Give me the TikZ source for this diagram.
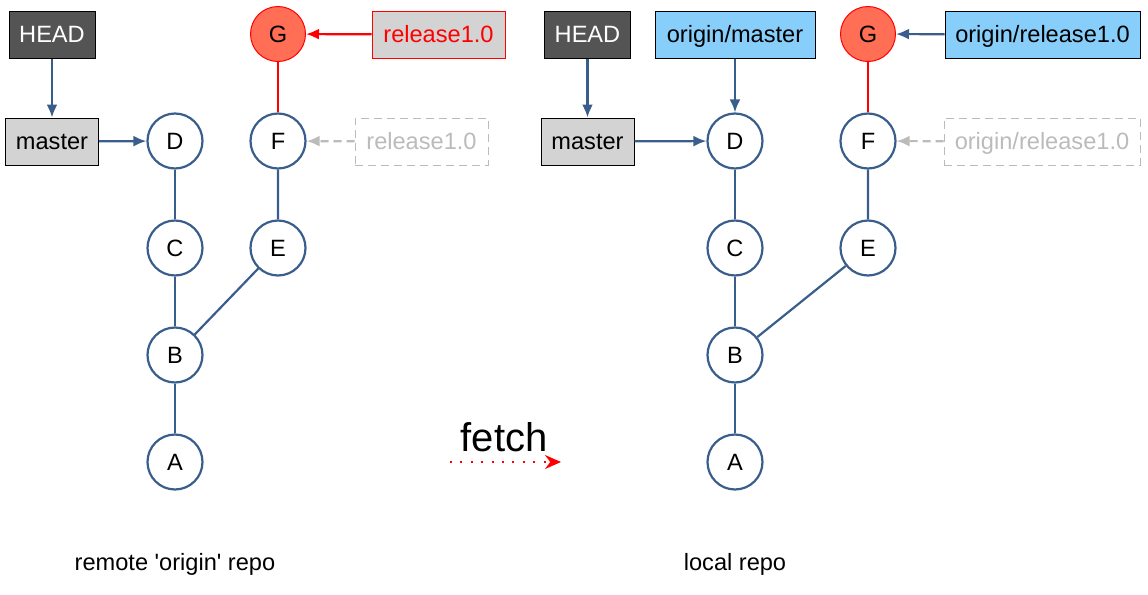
\documentclass[tikz,border=0pt]{standalone}
\usepackage{fontspec}
\setmainfont{Liberation Sans}
\usetikzlibrary{arrows.meta}

% colours of the graph
\definecolor{edgeblue}{HTML}{3A5E8C}
\definecolor{headgray}{HTML}{545454}
\definecolor{tiplight}{HTML}{FF6E55}
\definecolor{branchgray}{HTML}{D3D3D3}
\definecolor{originblue}{HTML}{87CEFA}
\definecolor{ghostgray}{HTML}{BBBBBB}

\tikzset{
  commit/.style={circle, draw=edgeblue, line width=1.1pt, fill=white,
    minimum size=27.5pt, inner sep=0pt},
  tipcommit/.style={commit, draw=red, line width=0.5pt, fill=tiplight},
  refbox/.style={rectangle, draw=black, line width=0.5pt,
    minimum height=23.5pt, inner sep=0pt, text height=10pt, text depth=1.6pt},
  headbox/.style={refbox, fill=headgray, text=white, minimum width=43pt},
  branchbox/.style={refbox, fill=branchgray},
  originbox/.style={refbox, fill=originblue},
  ghostbox/.style={refbox, draw=ghostgray, dash pattern=on 4pt off 2.5pt, text=ghostgray},
  link/.style={draw=edgeblue, line width=1.1pt},
  pointer/.style={link, -{Latex[length=6.5pt,width=5.5pt]}},
}

\begin{document}
\begin{tikzpicture}[x=0.5pt, y=-0.5pt, font=\fontsize{11.8}{14}\selectfont]
  \useasboundingbox (0,0) rectangle (1148,595);

  % ---- remote 'origin' repo ----
  \node[commit] (aL) at (175,462) {A};
  \node[commit] (bL) at (175,355) {B};
  \node[commit] (cL) at (175,248) {C};
  \node[commit] (dL) at (175,141) {D};
  \node[commit] (eL) at (278,248) {E};
  \node[commit] (fL) at (278,141) {F};
  \node[tipcommit] (gL) at (278,34) {G};

  \node[headbox] (headL) at (52,34.5) {HEAD};
  \node[branchbox, minimum width=46.5pt] (masterL) at (52,141.5) {master};
  \node[branchbox, draw=red, text=red, minimum width=66.5pt] (relL) at (438.5,34.5) {release1.0};
  \node[ghostbox, minimum width=66.5pt] (oldRelL) at (421.5,141.5) {release1.0};

  \draw[link] (aL) -- (bL) -- (cL) -- (dL);
  \draw[link] (bL) -- (eL) -- (fL);
  \draw[link, draw=red] (fL) -- (gL);
  \draw[pointer] (headL) -- (masterL);
  \draw[pointer] (masterL) -- (dL);
  \draw[pointer, draw=red] (relL) -- (gL);
  \draw[pointer, draw=ghostgray, dash pattern=on 4pt off 2.5pt] (oldRelL) -- (fL);

  \node (remoteLabel) at (175,564) {remote \textquotesingle origin\textquotesingle\ repo};

  % ---- fetch ----
  \node[font=\fontsize{20}{24}\selectfont] (fetchLabel) at (504,437) {fetch};
  \coordinate (fetchS) at (450,462);
  \coordinate (fetchE) at (561,462);
  \draw[red, line width=1pt, dash pattern=on 1pt off 4.2pt,
    -{Stealth[length=8pt,width=7pt]}] (fetchS) -- (fetchE);

  % ---- local repo ----
  \node[commit] (aR) at (735,462) {A};
  \node[commit] (bR) at (735,355) {B};
  \node[commit] (cR) at (735,248) {C};
  \node[commit] (dR) at (735,141) {D};
  \node[commit] (eR) at (868,248) {E};
  \node[commit] (fR) at (868,141) {F};
  \node[tipcommit] (gR) at (868,34) {G};

  \node[headbox] (headR) at (587.5,34.5) {HEAD};
  \node[branchbox, minimum width=46.5pt] (masterR) at (587.5,141.5) {master};
  \node[originbox, minimum width=80pt] (oMasterR) at (735,34.5) {origin/master};
  \node[originbox, minimum width=97.5pt] (oRelR) at (1042.5,34.5) {origin/release1.0};
  \node[ghostbox, minimum width=98pt] (oldRelR) at (1042,141.5) {origin/release1.0};

  \draw[link] (aR) -- (bR) -- (cR) -- (dR);
  \draw[link] (bR) -- (eR) -- (fR);
  \draw[link, draw=red] (fR) -- (gR);
  \draw[pointer] (headR) -- (masterR);
  \draw[pointer] (masterR) -- (dR);
  \draw[pointer] (oMasterR) -- (dR);
  \draw[pointer] (oRelR) -- (gR);
  \draw[pointer, draw=ghostgray, dash pattern=on 4pt off 2.5pt] (oldRelR) -- (fR);

  \node (localLabel) at (735,564) {local repo};
\end{tikzpicture}
\end{document}
